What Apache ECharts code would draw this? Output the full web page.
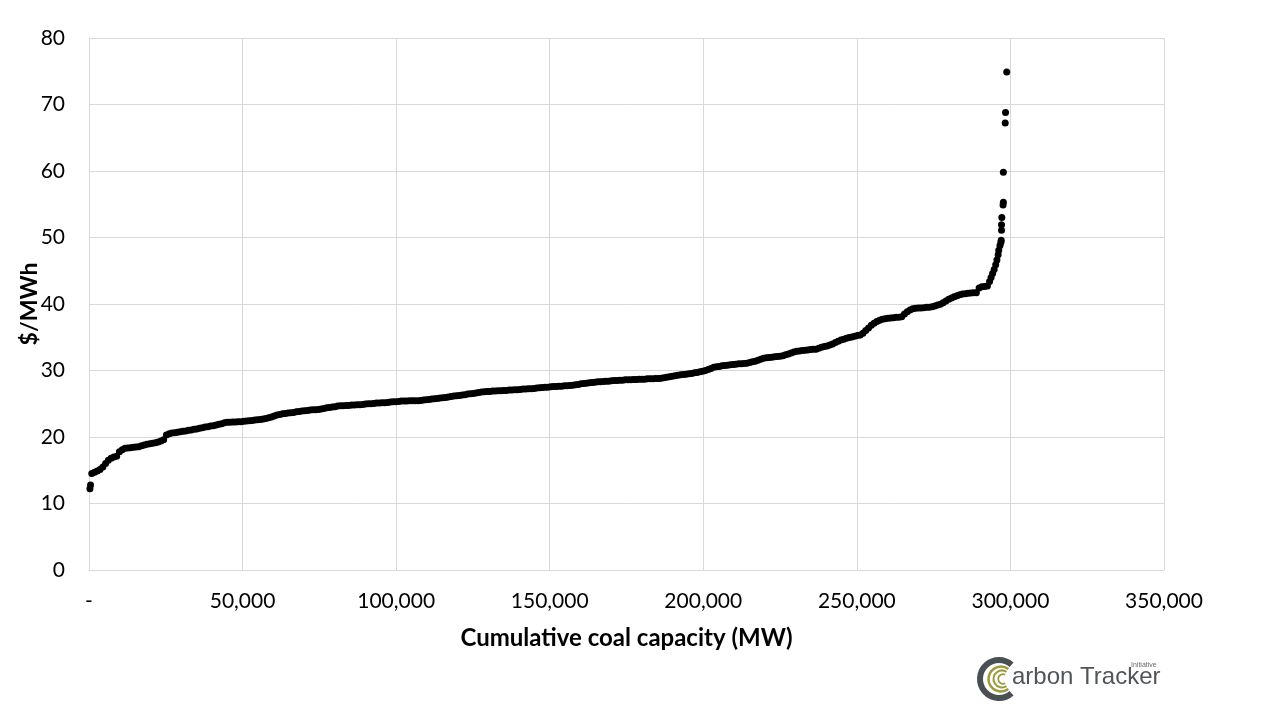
<!DOCTYPE html>
<html>
<head>
<meta charset="utf-8">
<script src="https://cdn.jsdelivr.net/npm/echarts@6/dist/echarts.min.js"></script>
<style>html,body{margin:0;padding:0;background:#fff}#c{width:1280px;height:720px}</style>
</head>
<body>
<div id="c"></div>
<script>
// Cumulative coal capacity (MW)
const capacity = [
300,500,900,1800,2700,3600,4500,5400,6300,7200,8100,9000,9900,10800,11700,12600,13500,14400,15300,16200,
17100,18000,18900,19800,20700,21600,22500,23400,24300,25200,26100,27000,27900,28800,29700,30600,31500,32400,33300,34200,
35100,36000,36900,37800,38700,39600,40500,41400,42300,43200,44100,45000,45900,46800,47700,48600,49500,50400,51300,52200,
53100,54000,54900,55800,56700,57600,58500,59400,60300,61200,62100,63000,63900,64800,65700,66600,67500,68400,69300,70200,
71100,72000,72900,73800,74700,75600,76500,77400,78300,79200,80100,81000,81900,82800,83700,84600,85500,86400,87300,88200,
89100,90000,90900,91800,92700,93600,94500,95400,96300,97200,98100,99000,99900,100800,101700,102600,103500,104400,105300,106200,
107100,108000,108900,109800,110700,111600,112500,113400,114300,115200,116100,117000,117900,118800,119700,120600,121500,122400,123300,124200,
125100,126000,126900,127800,128700,129600,130500,131400,132300,133200,134100,135000,135900,136800,137700,138600,139500,140400,141300,142200,
143100,144000,144900,145800,146700,147600,148500,149400,150300,151200,152100,153000,153900,154800,155700,156600,157500,158400,159300,160200,
161100,162000,162900,163800,164700,165600,166500,167400,168300,169200,170100,171000,171900,172800,173700,174600,175500,176400,177300,178200,
179100,180000,180900,181800,182700,183600,184500,185400,186300,187200,188100,189000,189900,190800,191700,192600,193500,194400,195300,196200,
197100,198000,198900,199800,200700,201600,202500,203400,204300,205200,206100,207000,207900,208800,209700,210600,211500,212400,213300,214200,
215100,216000,216900,217800,218700,219600,220500,221400,222300,223200,224100,225000,225900,226800,227700,228600,229500,230400,231300,232200,
233100,234000,234900,235800,236700,237600,238500,239400,240300,241200,242100,243000,243900,244800,245700,246600,247500,248400,249300,250200,
251100,252000,252900,253800,254700,255600,256500,257400,258300,259200,260100,261000,261900,262800,263700,264600,265500,266400,267300,268200,
269100,270000,270900,271800,272700,273600,274500,275400,276300,277200,278100,279000,279900,280800,281700,282600,283500,284400,285300,286200,
287100,288000,288900,289800,290700,291600,292500,293200,293700,294200,294700,295200,295600,296000,296200,296600,296900,297000,297100,297100,
297200,297600,297700,297700,298300,298400,298800
];
// Generation cost ($/MWh)
const cost = [
12.2,12.8,14.5,14.7,14.9,15.1,15.5,16.0,16.5,16.8,17.0,17.1,17.8,18.1,18.3,18.35,18.4,18.45,18.5,18.55,
18.7,18.8,18.9,19.0,19.05,19.15,19.25,19.4,19.6,20.3,20.5,20.6,20.65,20.7,20.8,20.85,20.9,21.0,21.05,21.15,
21.2,21.3,21.4,21.5,21.55,21.65,21.7,21.8,21.9,22.0,22.15,22.2,22.2,22.25,22.25,22.3,22.3,22.35,22.4,22.45,
22.5,22.55,22.6,22.65,22.7,22.8,22.9,23.0,23.15,23.3,23.4,23.5,23.55,23.6,23.65,23.7,23.8,23.85,23.9,23.95,
24.0,24.05,24.1,24.1,24.15,24.2,24.3,24.4,24.45,24.5,24.55,24.65,24.7,24.7,24.75,24.75,24.8,24.8,24.85,24.85,
24.9,24.95,25.0,25.0,25.05,25.1,25.1,25.15,25.15,25.2,25.25,25.3,25.3,25.35,25.4,25.4,25.4,25.45,25.45,25.45,
25.45,25.5,25.55,25.6,25.65,25.7,25.75,25.8,25.85,25.9,25.95,26.0,26.1,26.15,26.2,26.25,26.3,26.35,26.45,26.5,
26.55,26.6,26.7,26.75,26.8,26.85,26.85,26.9,26.9,26.95,26.95,27.0,27.0,27.05,27.05,27.1,27.1,27.15,27.2,27.2,
27.25,27.25,27.3,27.35,27.4,27.45,27.5,27.5,27.55,27.6,27.6,27.65,27.65,27.7,27.7,27.75,27.8,27.85,27.9,28.0,
28.05,28.1,28.15,28.2,28.25,28.3,28.3,28.35,28.4,28.4,28.45,28.5,28.5,28.55,28.55,28.6,28.6,28.6,28.65,28.65,
28.7,28.7,28.7,28.75,28.75,28.75,28.8,28.8,28.85,28.9,29.0,29.05,29.15,29.2,29.3,29.35,29.4,29.45,29.5,29.55,
29.65,29.7,29.8,29.9,30.0,30.15,30.3,30.5,30.55,30.6,30.7,30.75,30.8,30.85,30.9,30.95,31.0,31.0,31.05,31.1,
31.2,31.3,31.4,31.55,31.7,31.85,31.9,31.95,32.0,32.05,32.1,32.15,32.2,32.35,32.5,32.65,32.8,32.9,32.95,33.0,
33.05,33.1,33.15,33.2,33.2,33.35,33.5,33.6,33.7,33.85,34.0,34.2,34.4,34.6,34.7,34.85,34.95,35.05,35.15,35.25,
35.35,35.6,36.0,36.4,36.8,37.1,37.35,37.55,37.7,37.8,37.85,37.9,37.95,38.0,38.0,38.1,38.5,38.85,39.1,39.3,
39.35,39.4,39.4,39.45,39.5,39.5,39.6,39.7,39.85,39.95,40.2,40.45,40.7,40.9,41.1,41.25,41.4,41.5,41.55,41.6,
41.65,41.7,41.7,42.4,42.6,42.65,42.7,43.4,44.0,44.6,45.2,45.9,46.6,47.4,48.1,48.8,49.3,49.6,51.1,51.9,
53.0,54.9,55.3,59.8,67.2,68.8,74.9
];
const xTicks = [0, 50000, 100000, 150000, 200000, 250000, 300000, 350000];
const yTicks = [0, 10, 20, 30, 40, 50, 60, 70, 80];
const xTitle = 'Cumulative coal capacity (MW)';
const yTitle = '$/MWh';

const points = capacity.map((c, i) => [c, cost[i]]);
const fmt = v => v === 0 ? '-' : String(v).replace(/\B(?=(\d{3})+(?!\d))/g, ',');
const FONT = 'Lato, "Open Sans", sans-serif';

const chart = echarts.init(document.getElementById('c'), null, {renderer: 'canvas'});
chart.setOption({
  animation: false,
  backgroundColor: '#ffffff',
  grid: {left: 89, right: 116, top: 38, bottom: 150, containLabel: false},
  xAxis: {
    type: 'value', min: xTicks[0], max: xTicks[xTicks.length - 1], interval: 50000,
    name: xTitle, nameLocation: 'middle', nameGap: 56,
    nameTextStyle: {fontFamily: FONT, fontWeight: 'bold', fontSize: 24, color: '#000'},
    axisLine: {show: true, lineStyle: {color: '#d9d9d9', width: 1}},
    axisTick: {show: false},
    axisLabel: {formatter: fmt, fontFamily: FONT, fontSize: 21, color: '#000', margin: 21},
    splitLine: {show: true, lineStyle: {color: '#d9d9d9', width: 1}}
  },
  yAxis: {
    type: 'value', min: yTicks[0], max: yTicks[yTicks.length - 1], interval: 10,
    name: yTitle, nameLocation: 'middle', nameGap: 48, nameRotate: 90, nameMoveOverlap: false,
    nameTextStyle: {fontFamily: FONT, fontWeight: 'bold', fontSize: 23, color: '#000'},
    axisLine: {show: true, lineStyle: {color: '#d9d9d9', width: 1}},
    axisTick: {show: false},
    axisLabel: {fontFamily: FONT, fontSize: 21, color: '#000', margin: 24},
    splitLine: {show: true, lineStyle: {color: '#d9d9d9', width: 1}}
  },
  series: [{
    type: 'scatter', data: points, symbol: 'circle', symbolSize: 7,
    itemStyle: {color: '#000000', opacity: 1}
  }],
  graphic: [
    {type: 'arc', shape: {cx: 999, cy: 679, r: 19, startAngle: Math.PI * 0.27, endAngle: Math.PI * 1.73, clockwise: true},
      style: {stroke: '#4a4f54', lineWidth: 6, fill: null}},
    {type: 'arc', shape: {cx: 1001, cy: 679, r: 12.5, startAngle: Math.PI * 0.3, endAngle: Math.PI * 1.7, clockwise: true},
      style: {stroke: '#9c9a3c', lineWidth: 2.5, fill: null}},
    {type: 'arc', shape: {cx: 1002, cy: 679, r: 8.5, startAngle: Math.PI * 0.32, endAngle: Math.PI * 1.68, clockwise: true},
      style: {stroke: '#9c9a3c', lineWidth: 2, fill: null}},
    {type: 'arc', shape: {cx: 1003, cy: 679, r: 4.8, startAngle: Math.PI * 0.35, endAngle: Math.PI * 1.65, clockwise: true},
      style: {stroke: '#9c9a3c', lineWidth: 1.8, fill: null}},
    {type: 'text', left: 1012, top: 665,
      style: {text: 'arbon Tracker', fontFamily: '"Liberation Sans", Arial, sans-serif', fontSize: 24, fill: '#50555a'}},
    {type: 'text', left: 1131, top: 662,
      style: {text: 'Initiative', fontFamily: '"Liberation Sans", Arial, sans-serif', fontSize: 7, fill: '#6a6a6a'}}
  ]
});
</script>
</body>
</html>
